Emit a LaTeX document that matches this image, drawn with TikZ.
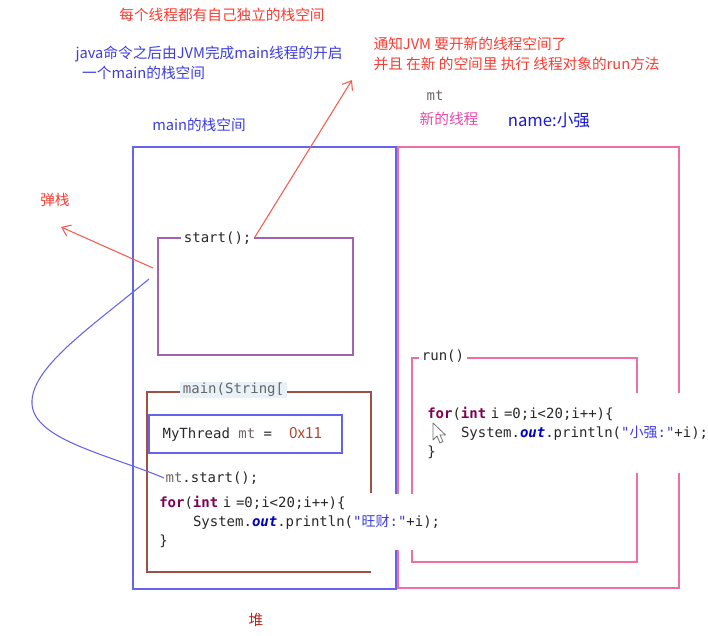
\documentclass[tikz,border=0pt]{standalone}
\usepackage{fontspec}
\setmainfont{Noto Sans CJK SC}
\setmonofont{DejaVu Sans Mono}
\newfontfamily\cjkfont{Noto Sans CJK SC}
\usepackage{xcolor}
\usetikzlibrary{arrows.meta}

\definecolor{notered}{RGB}{250,60,50}
\definecolor{noteblue}{RGB}{60,60,225}
\definecolor{nameblue}{RGB}{25,25,215}
\definecolor{threadpink}{RGB}{235,70,170}
\definecolor{heapred}{RGB}{175,40,30}
\definecolor{stackblue}{RGB}{100,100,235}
\definecolor{stackpink}{RGB}{240,110,160}
\definecolor{framepurple}{RGB}{160,100,170}
\definecolor{framebrown}{RGB}{160,80,70}
\definecolor{arrowred}{RGB}{245,90,80}
\definecolor{codegray}{RGB}{40,40,40}
\definecolor{vargray}{RGB}{115,100,100}
\definecolor{kwpurple}{RGB}{127,0,85}
\definecolor{fieldblue}{RGB}{0,0,192}
\definecolor{strblue}{RGB}{60,60,230}
\definecolor{addrbrown}{RGB}{170,70,50}
\definecolor{labelbg}{RGB}{232,240,248}

\newcommand{\kw}[1]{\textcolor{kwpurple}{\textbf{#1}}}
\newcommand{\fld}[1]{\textcolor{fieldblue}{\textbf{\textit{#1}}}}
\newcommand{\var}[1]{\textcolor{vargray}{#1}}
\newcommand{\str}[1]{\textcolor{strblue}{#1}}
\newcommand{\zh}[1]{{\cjkfont #1}}
\newcommand{\indentcode}{\hspace*{2.41em}}

\begin{document}
\begin{tikzpicture}[x=0.75pt,y=-0.75pt,
  note/.style={font=\fontsize{11}{15}\selectfont, inner sep=1pt},
  rednote/.style={note, text=notered},
  bluenote/.style={note, text=noteblue},
  code/.style={font=\ttfamily\fontsize{10.5}{14.4}\selectfont, text=codegray, inner sep=1pt},
  boxlabel/.style={code, fill=white, anchor=west, inner xsep=2pt},
  codeblock/.style={code, fill=white, align=left, anchor=west},
  stack/.style={line width=0.9pt},
  redarrow/.style={draw=arrowred, line width=0.8pt, -{Straight Barb[length=6pt,width=9pt]}},
  cursor/.style={draw=black!55, fill=white, line width=0.6pt, line join=round},
]
\useasboundingbox (0,0) rectangle (708,636);

% notes on top
\node[rednote] (title) at (222,15) {每个线程都有自己独立的栈空间};
\node[bluenote, align=left, anchor=west] (jvmnote) at (74,63)
  {java命令之后由JVM完成main线程的开启\\\hspace*{0.45em}一个main的栈空间};
\node[rednote, align=left, anchor=west] (notify) at (372,54)
  {通知JVM 要开新的线程空间了\\并且 在新 的空间里 执行 线程对象的run方法};
\node[bluenote] (mainname) at (199,125) {main的栈空间};
\node[code, text=vargray] (mtname) at (435,96) {mt};
\node[note, text=threadpink] (newname) at (449,119) {新的线程};
\node[note, text=nameblue, font=\fontsize{12.5}{15}\selectfont] (threadname) at (549,120) {name:小强};
\node[rednote] (popnote) at (55,200) {弹栈};
\node[note, text=heapred] (heap) at (256,620) {堆};

% the two stacks
\draw[stack, draw=stackblue] (133,147) rectangle (396,589);
\draw[stack, draw=stackpink] (398,147) rectangle (679,588);

% frames of the main stack
\draw[stack, draw=framepurple] (158,238) rectangle (353,355);
\draw[stack, draw=framebrown] (371,493) -- (371,392) -- (147,392) -- (147,572) -- (371,572);
\draw[stack, draw=stackblue] (149,415) rectangle (342,453);

% frame of the new stack
\draw[stack, draw=stackpink] (412,358) rectangle (637,562);

% frame labels
\node[boxlabel] (startlbl) at (181,238) {start();};
\node[boxlabel, fill=labelbg, text=black!60] (mainlbl) at (180,390) {main(String[};
\node[boxlabel] (runlbl) at (419,356) {run()};

% code lines
\node[code, anchor=west] (refvar) at (161,434)
  {MyThread \var{mt} =\ \ \textcolor{addrbrown}{\rmfamily\fontsize{11.5}{14}\selectfont 0x11}};
\node[code, anchor=west] (callnode) at (164,478) {\var{mt}.start();};
\node[codeblock, text width=212pt, minimum height=42pt, inner xsep=2.25pt] (maincode) at (156,522)
  {\kw{for}(\kw{int} i =0;i<20;i++)\{\\
   \indentcode System.\fld{out}.println(\str{"\zh{旺财}:"}+i);\\
   \}};
\node[codeblock, text width=205.5pt, minimum height=60pt, inner xsep=5.25pt] (runcode) at (420,433)
  {\kw{for}(\kw{int} i =0;i<20;i++)\{\\
   \indentcode System.\fld{out}.println(\str{"\zh{小强}:"}+i);\\
   \}};

% mouse pointer
\coordinate (cursortip) at (433,423);
\draw[cursor] (cursortip) -- ++(0,17) -- ++(4,-4) -- ++(3,7) -- ++(3,-1.5)
  -- ++(-3,-6.5) -- ++(5.5,0) -- cycle;

% arrows
\coordinate (spawntip) at (352,80);
\draw[redarrow] (startlbl.east) -- (spawntip);
\coordinate (popfrom) at (153,268);
\coordinate (poptip) at (61,227);
\draw[redarrow] (popfrom) -- (poptip);

% call line from the start frame to mt.start()
\coordinate (curvefrom) at (149,279);
\draw[draw=stackblue, line width=0.8pt] (curvefrom) .. controls (90,328) and (30,368) .. (32,404)
  .. controls (34,440) and (110,455) .. (callnode.west);

\end{tikzpicture}
\end{document}
